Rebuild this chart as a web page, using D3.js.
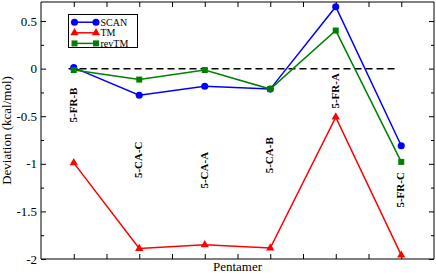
<!DOCTYPE html>
<html lang="en">
<head>
<meta charset="UTF-8"/>
<title>Pentamer deviation</title>
<script src="https://d3js.org/d3.v7.min.js"></script>
<style type="text/css">
  body { margin: 0; background: #fff; }
  text { font-family: "Liberation Serif", "Times New Roman", serif; }
  .axis path, .axis line { stroke: #000; stroke-width: 1; }
  .axis text { font-size: 13px; fill: #000; }
  .zero { stroke: #000; stroke-width: 1.5; stroke-dasharray: 7, 4; fill: none; }
</style>
</head>
<body>
<script>

// pentamer labels, in x order
var pentamers = ["5-FR-B", "5-CA-C", "5-CA-A", "5-CA-B", "5-FR-A", "5-FR-C"];

// deviations (kcal/mol)
var scan  = [0.01, -0.28, -0.185, -0.215, 0.65, -0.81];
var tm    = [-0.99, -1.89, -1.85, -1.885, -0.51, -1.96];
var revtm = [-0.015, -0.115, -0.015, -0.215, 0.40, -0.98];

// where each rotated label starts (y, in kcal/mol)
var labelY = [-0.565, -1.15, -1.26, -1.10, -0.42, -1.46];

var yTicks = [-2, -1.5, -1, -0.5, 0, 0.5];
var yTickLabels = ["-2", "-1.5", "-1", "-0.5", "0", "0.5"];

var margin = {top: 2, right: 2, bottom: 14, left: 41},
    width = 436 - margin.left - margin.right,
    height = 273 - margin.top - margin.bottom;

var x = d3.scaleLinear().domain([0.5, 6.5]).range([0, width]);
var y = d3.scaleLinear().domain([-2, 0.7]).range([height, 0]);

var svg = d3.select("body").append("svg")
    .attr("width", 436)
    .attr("height", 273)
  .append("g")
    .attr("transform", "translate(" + margin.left + "," + margin.top + ")");

var xt = d3.range(1, 6.01, 0.5);
var yMinor = d3.range(-1.75, 0.7, 0.5);

// axes, ticks pointing inward
svg.append("g").attr("class", "axis")
    .attr("transform", "translate(0," + height + ")")
    .call(d3.axisBottom(x).tickValues(xt).tickSize(-5).tickFormat(""))
    .call(g => g.select(".domain").attr("d", "M0,0H" + width));
svg.append("g").attr("class", "axis")
    .call(d3.axisTop(x).tickValues(xt).tickSize(-5).tickFormat(""))
    .call(g => g.select(".domain").attr("d", "M0,0H" + width));
svg.append("g").attr("class", "axis")
    .call(d3.axisLeft(y).tickValues(yTicks).tickSize(-5).tickPadding(4)
        .tickFormat((d, i) => yTickLabels[i]))
    .call(g => g.select(".domain").attr("d", "M0,0V" + height));
svg.append("g").attr("class", "axis")
    .call(d3.axisLeft(y).tickValues(yMinor).tickSize(-3).tickFormat(""))
    .call(g => g.select(".domain").remove());
svg.append("g").attr("class", "axis")
    .attr("transform", "translate(" + width + ",0)")
    .call(d3.axisRight(y).tickValues(yTicks).tickSize(-5).tickFormat(""))
    .call(g => g.select(".domain").attr("d", "M0,0V" + height));
svg.append("g").attr("class", "axis")
    .attr("transform", "translate(" + width + ",0)")
    .call(d3.axisRight(y).tickValues(yMinor).tickSize(-3).tickFormat(""))
    .call(g => g.select(".domain").remove());

// zero reference
svg.append("line").attr("class", "zero")
    .attr("x1", x(0.92)).attr("x2", x(5.95))
    .attr("y1", y(0)).attr("y2", y(0));

var series = [
  {name: "SCAN", values: scan, color: "#0000ff", shape: d3.symbolCircle, size: 40},
  {name: "TM", values: tm, color: "#ff0000", shape: d3.symbolTriangle, size: 30},
  {name: "revTM", values: revtm, color: "#008000", shape: d3.symbolSquare, size: 36}
];

var line = d3.line()
    .x((d, i) => x(i + 1))
    .y(d => y(d));

series.forEach(function(s) {
  svg.append("path")
      .datum(s.values)
      .attr("fill", "none")
      .attr("stroke", s.color)
      .attr("stroke-width", 1.5)
      .attr("d", line);
  svg.selectAll(null)
      .data(s.values)
    .enter().append("path")
      .attr("transform", (d, i) => "translate(" + x(i + 1) + "," + y(d) + ")")
      .attr("d", d3.symbol().type(s.shape).size(s.size))
      .attr("fill", s.color);
});

// pentamer labels
svg.selectAll(".plabel")
    .data(pentamers)
  .enter().append("text")
    .attr("class", "plabel")
    .attr("transform", (d, i) => "translate(" + (x(i + 1) + 3) + "," + y(labelY[i]) + ") rotate(-90)")
    .attr("font-size", "11px")
    .attr("font-weight", "bold")
    .text(d => d);

// axis titles
svg.append("text")
    .attr("transform", "translate(" + (11 - margin.left) + "," + (height / 2) + ") rotate(-90)")
    .attr("text-anchor", "middle")
    .attr("font-size", "13px")
    .text("Deviation (kcal/mol)");
svg.append("text")
    .attr("x", width / 2)
    .attr("y", height + 12)
    .attr("text-anchor", "middle")
    .attr("font-size", "13px")
    .text("Pentamer");

// legend
var lg = svg.append("g").attr("transform", "translate(" + (68.5 - margin.left) + "," + (14.5 - margin.top) + ")");
lg.append("rect")
    .attr("width", 69).attr("height", 33)
    .attr("fill", "#fff").attr("stroke", "#000").attr("stroke-width", 1);
series.forEach(function(s, i) {
  var ey = 7.7 + i * 10.6;
  lg.append("line")
      .attr("x1", 6).attr("x2", 27.5)
      .attr("y1", ey).attr("y2", ey)
      .attr("stroke", s.color).attr("stroke-width", 1.5);
  [6, 27.5].forEach(function(px) {
    lg.append("path")
        .attr("transform", "translate(" + px + "," + ey + ")")
        .attr("d", d3.symbol().type(s.shape).size(s.size))
        .attr("fill", s.color);
  });
  lg.append("text")
      .attr("x", 32).attr("y", ey + 3.5)
      .attr("font-size", "10px")
      .text(s.name);
});

</script>
</body>
</html>
